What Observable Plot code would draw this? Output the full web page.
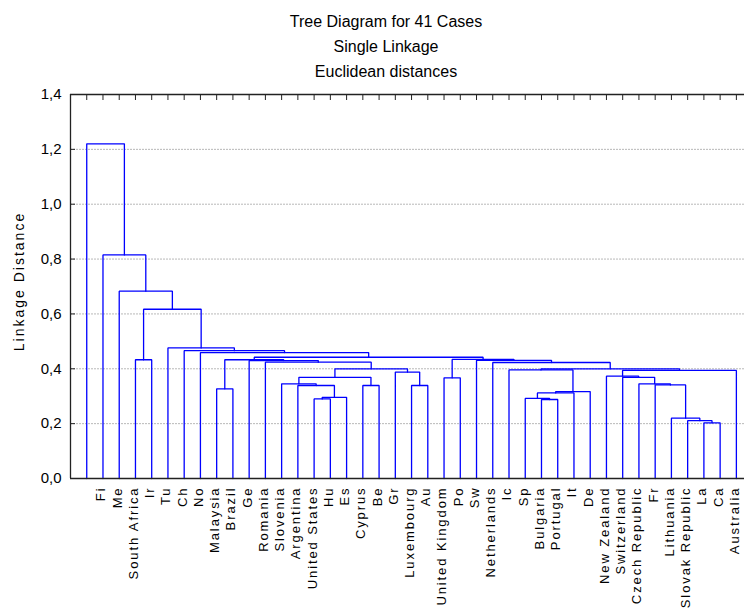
<!DOCTYPE html>
<html>
<head>
<meta charset="utf-8">
<script src="https://cdn.jsdelivr.net/npm/d3@7"></script>
<script src="https://cdn.jsdelivr.net/npm/@observablehq/plot@0.6"></script>
<style>
  html, body { margin: 0; padding: 0; background: #fff; overflow: hidden; }
  body { font-family: "Liberation Sans", Arial, sans-serif; width: 744px; height: 610px; }
  #title { width: 744px; box-sizing: border-box; padding: 8.5px 0 1.6px 28px; text-align: center;
           font-size: 16px; line-height: 25.3px; color: #000; }
  #title div { white-space: nowrap; }
  #chart svg { overflow: hidden; display: block; }
</style>
</head>
<body>
<div id="title"></div>
<div id="chart"></div>
<script>
// ---- chart text ----
const titleLines = ["Tree Diagram for 41 Cases", "Single Linkage", "Euclidean distances"];
const yLabel = "Linkage Distance";

// ---- leaves, left to right (41st case is cut off at the right edge) ----
const leaves = [
  "Fi", "Me", "South Africa", "Ir", "Tu", "Ch", "No", "Malaysia", "Brazil", "Ge",
  "Romania", "Slovenia", "Argentina", "United States", "Hu", "Es", "Cyprus", "Be", "Gr",
  "Luxembourg", "Au", "United Kingdom", "Po", "Sw", "Netherlands", "Ic", "Sp", "Bulgaria",
  "Portugal", "It", "De", "New Zealand", "Switzerland", "Czech Republic", "Fr", "Lithuania",
  "Slovak Republic", "La", "Ca", "Australia", ""
];

// ---- merges: [child A, child B, linkage distance]; "mK" = K-th merge ----
const merges = [
  ["Ca", "Australia", 0.203],          // m0
  ["La", "m0", 0.211],                 // m1
  ["Slovak Republic", "m1", 0.220],    // m2
  ["Portugal", "It", 0.288],           // m3
  ["Hu", "Es", 0.290],                 // m4
  ["Bulgaria", "m3", 0.292],           // m5
  ["m4", "Cyprus", 0.296],             // m6
  ["m5", "De", 0.312],                 // m7
  ["m7", "New Zealand", 0.317],        // m8
  ["Brazil", "Ge", 0.327],             // m9
  ["United States", "m6", 0.339],      // m10
  ["Be", "Gr", 0.339],                 // m11
  ["Au", "United Kingdom", 0.339],     // m12
  ["Lithuania", "m2", 0.341],          // m13
  ["Fr", "m13", 0.345],                // m14
  ["Argentina", "m10", 0.345],         // m15
  ["Po", "Sw", 0.367],                 // m16
  ["m15", "m11", 0.369],               // m17
  ["Czech Republic", "m14", 0.369],    // m18
  ["Switzerland", "m18", 0.373],       // m19
  ["Luxembourg", "m12", 0.388],        // m20
  ["m19", "", 0.394],                  // m21
  ["Sp", "m8", 0.396],                 // m22
  ["m22", "m21", 0.400],               // m23
  ["m17", "m20", 0.400],               // m24
  ["Ic", "m23", 0.423],                // m25
  ["Slovenia", "m24", 0.424],          // m26
  ["Romania", "m26", 0.430],           // m27
  ["Netherlands", "m25", 0.431],       // m28
  ["Ir", "Tu", 0.433],                 // m29
  ["m9", "m27", 0.433],                // m30
  ["m16", "m28", 0.434],               // m31
  ["m30", "m31", 0.442],               // m32
  ["Malaysia", "m32", 0.459],          // m33
  ["No", "m33", 0.466],                // m34
  ["Ch", "m34", 0.476],                // m35
  ["m29", "m35", 0.617],               // m36
  ["South Africa", "m36", 0.683],      // m37
  ["Me", "m37", 0.815],                // m38
  ["Fi", "m38", 1.220]                 // m39
];

// ---- axis ticks ----
const yTicks = [0, 0.2, 0.4, 0.6, 0.8, 1.0, 1.2, 1.4];
const gridTicks = [0.2, 0.4, 0.6, 0.8, 1.0, 1.2];

// ---- build the dendrogram paths ----
const nodes = new Map();
leaves.forEach((name, i) => nodes.set(name, {x: i + 1, h: 0}));
const pathPoints = [];
merges.forEach(([a, b, h], k) => {
  const A = nodes.get(a), B = nodes.get(b);
  pathPoints.push(
    {id: k, x: A.x, y: A.h},
    {id: k, x: A.x, y: h},
    {id: k, x: B.x, y: h},
    {id: k, x: B.x, y: B.h}
  );
  nodes.set("m" + k, {x: (A.x + B.x) / 2, h});
});
const leafPos = leaves.map((d, i) => i + 1);

document.getElementById("title").innerHTML = titleLines.map(t => `<div>${t}</div>`).join("");

const font = "'Liberation Sans', Arial, sans-serif";
const chart = Plot.plot({
  width: 744,
  height: 524,
  marginLeft: 70,
  marginRight: 0,
  marginTop: 8,
  marginBottom: 132,
  style: {fontFamily: font, background: "#fff", color: "#000", overflow: "hidden"},
  x: {domain: [0, 41.5]},
  y: {domain: [0, 1.4]},
  marks: [
    Plot.ruleY(gridTicks, {stroke: "#b8b8b8", strokeDasharray: "2,1", strokeWidth: 1}),
    Plot.line(pathPoints, {x: "x", y: "y", z: "id", stroke: "#0000ff", strokeWidth: 1.3, strokeLinejoin: "miter", curve: "linear"}),
    Plot.ruleY([0, 1.4], {stroke: "#222", strokeWidth: 1.3}),
    Plot.ruleX([0], {stroke: "#222", strokeWidth: 1.3}),
    Plot.axisY(yTicks, {anchor: "left", tickSize: 5, dx: 5, tickFormat: () => "", label: null, stroke: "#222"}),
    Plot.axisY(yTicks, {anchor: "left", tickSize: 0, tickPadding: 9, fontSize: 15, fill: "#000",
      tickFormat: d => d.toFixed(1).replace(".", ","), label: null}),
    Plot.axisX(leafPos, {anchor: "top", tickSize: 5, dy: 5, tickFormat: () => "", label: null, stroke: "#222"}),
    Plot.text(leaves, {x: (d, i) => i + 1, frameAnchor: "bottom", text: d => d, rotate: -90,
      textAnchor: "end", lineAnchor: "middle", dx: 14.5, dy: 8, fontSize: 13, fill: "#000"}),
    Plot.text([yLabel], {frameAnchor: "left", text: d => d, rotate: -90, textAnchor: "middle",
      lineAnchor: "middle", dx: -51, dy: -5, fontSize: 14, fill: "#000"})
  ]
});
document.getElementById("chart").appendChild(chart);

const leafSet = new Set(leaves.filter(d => d));
d3.select(chart).selectAll("text").each(function() {
  const t = this.textContent;
  if (t === yLabel) this.style.letterSpacing = "2px";
  else if (leafSet.has(t)) this.style.letterSpacing = "1.9px";
});
</script>
</body>
</html>
